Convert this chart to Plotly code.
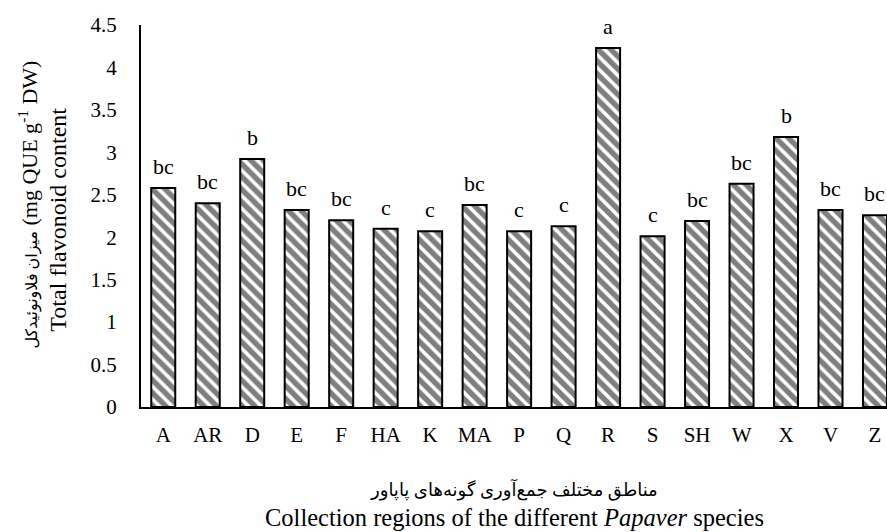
import plotly.graph_objects as go

categories = ["A", "AR", "D", "E", "F", "HA", "K", "MA", "P", "Q", "R", "S", "SH", "W", "X", "V", "Z"]
values = [2.58, 2.40, 2.92, 2.32, 2.20, 2.10, 2.07, 2.38, 2.07, 2.13, 4.23, 2.01, 2.19, 2.63, 3.18, 2.32, 2.26]
letters = ["bc", "bc", "b", "bc", "bc", "c", "c", "bc", "c", "c", "a", "c", "bc", "bc", "b", "bc", "bc"]
y_ticks = [0, 0.5, 1, 1.5, 2, 2.5, 3, 3.5, 4, 4.5]

SERIF = "Liberation Serif, Times New Roman, DejaVu Sans, serif"

fig = go.Figure()
fig.add_trace(go.Bar(
    x=categories,
    y=values,
    marker=dict(
        color="white",
        line=dict(color="black", width=2),
        pattern=dict(shape="\\", fgcolor="black", bgcolor="white", size=9, solidity=0.6),
    ),
    showlegend=False,
))

for c, v, t in zip(categories, values, letters):
    fig.add_annotation(x=c, y=v, text=t, showarrow=False, yanchor="bottom", yshift=7,
                       font=dict(family=SERIF, size=22, color="black"))

# y-axis titles
fig.add_annotation(xref="paper", yref="paper", x=-0.111, y=0.491, xanchor="center", yanchor="middle",
                   text="Total flavonoid content", textangle=-90, showarrow=False,
                   font=dict(family=SERIF, size=24, color="black"))
fig.add_annotation(xref="paper", yref="paper", x=-0.151, y=0.531, xanchor="center", yanchor="middle",
                   text="<span style='font-size:16px'>میزان فلاونوئیدکل</span> (mg QUE g<sup>-1</sup> DW)",
                   textangle=-90, showarrow=False,
                   font=dict(family=SERIF, size=22, color="black"))

# x-axis titles
fig.add_annotation(xref="paper", yref="paper", x=0.5, y=-0.217, xanchor="center", yanchor="middle",
                   text="مناطق مختلف جمع‌آوری گونه‌های پاپاور", showarrow=False,
                   font=dict(family=SERIF, size=18, color="black"))
fig.add_annotation(xref="paper", yref="paper", x=0.5, y=-0.29, xanchor="center", yanchor="middle",
                   text="Collection regions of the different <i>Papaver</i> species", showarrow=False,
                   font=dict(family=SERIF, size=24.5, color="black"))

fig.update_layout(
    width=887, height=532,
    margin=dict(l=141, r=0, t=25, b=125),
    paper_bgcolor="white", plot_bgcolor="white",
    bargap=0.46,
    font=dict(family=SERIF, size=21, color="black"),
)
fig.update_xaxes(
    type="category", range=[-0.5, 16.27],
    showline=True, linecolor="black", linewidth=2,
    showgrid=False, ticks="", ticklabelstandoff=8,
    tickfont=dict(family=SERIF, size=21, color="black"),
)
fig.update_yaxes(
    range=[0, 4.5], tickvals=y_ticks, ticktext=[f"{v:g}" for v in y_ticks],
    showline=True, linecolor="black", linewidth=2,
    showgrid=False, zeroline=False, ticks="", ticklabelstandoff=18,
    tickfont=dict(family=SERIF, size=21, color="black"),
)

fig.write_html("out.html")
